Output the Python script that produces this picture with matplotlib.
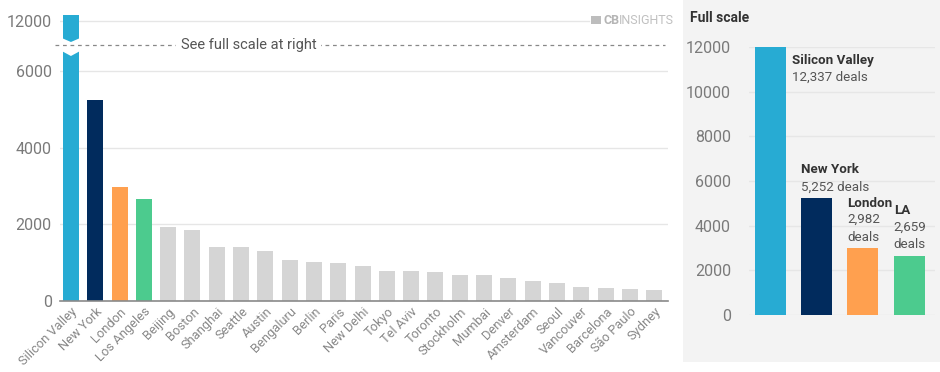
import numpy as np
import matplotlib
matplotlib.use('Agg')
import matplotlib.pyplot as plt
from matplotlib.patches import Rectangle, Polygon
import matplotlib.transforms as mtransforms

plt.rcParams['font.family'] = ['Roboto', 'DejaVu Sans']

# datos
cities = ["Silicon Valley", "New York", "London", "Los Angeles", "Beijing", "Boston",
          "Shanghai", "Seattle", "Austin", "Bengaluru", "Berlin", "Paris", "New Delhi",
          "Tokyo", "Tel Aviv", "Toronto", "Stockholm", "Mumbai", "Denver", "Amsterdam",
          "Seoul", "Vancouver", "Barcelona", "São Paulo", "Sydney"]
deals = [12337, 5252, 2982, 2659, 1920, 1860, 1400, 1400, 1300, 1060, 1010, 1000, 920,
         790, 780, 750, 680, 670, 600, 520, 470, 370, 350, 320, 280]
left_ticks = [0, 2000, 4000, 6000, 12000]

top_names = ["Silicon Valley", "New York", "London", "LA"]
top_deals = [12337, 5252, 2982, 2659]
top_wrap = [False, False, True, True]
right_ticks = [0, 2000, 4000, 6000, 8000, 10000, 12000]

colors_top = ["#27abd3", "#012b5d", "#ffa04f", "#4ccb8e"]
gray_bar = "#d5d5d5"
bar_colors = colors_top + [gray_bar] * (len(cities) - 4)

txt_gray = "#7a7a7a"
dark = "#333333"

# escala cortada para el eje izquierdo
xp = [-1e5, 6400, 11000, 12000, 1e5]
fp = [-1e5, 6400, 6864, 7316, 7316 + (1e5 - 12000) * 0.452]


def fwd(v):
    return np.interp(v, xp, fp)


def inv(t):
    return np.interp(t, fp, xp)


fig = plt.figure(figsize=(9.4, 3.72), dpi=100)

# panel gris de la derecha
fig.patches.append(Rectangle((683 / 940, 10 / 372), 257 / 940, 362 / 372,
                             transform=fig.transFigure, facecolor="#f3f3f3",
                             edgecolor="none", zorder=-5))

# ---- grafico izquierdo ----
ax = fig.add_axes([60 / 940, 71 / 372, 608 / 940, 286 / 372])
ax.set_yscale('function', functions=(fwd, inv))
x = np.arange(len(cities))
w = 0.66
ax.bar(x, deals, width=w, color=bar_colors, zorder=2)
ax.set_xlim(-0.45, len(cities) - 1 + 0.57)
ax.set_ylim(0, deals[0])

for t in left_ticks:
    ax.axhline(t, color="#e6e6e6", lw=1, zorder=1,
               xmax=0.87 if t == 12000 else 1)
ax.set_yticks(left_ticks)
ax.set_yticklabels([str(t) for t in left_ticks])
ax.set_xticks(x)
ax.set_xticklabels(cities, rotation=45, ha='right', rotation_mode='anchor')
ax.tick_params(axis='y', length=0, pad=6, labelsize=11.5, labelcolor=txt_gray)
ax.tick_params(axis='x', length=0, pad=3, labelsize=9.3, labelcolor="#888888")
for s in ['top', 'right', 'left']:
    ax.spines[s].set_visible(False)
ax.spines['bottom'].set_color("#8a8a8a")
ax.spines['bottom'].set_linewidth(1.2)
ax.spines['bottom'].set_zorder(3)

# marca de corte en la barra de Silicon Valley
blend = mtransforms.blended_transform_factory(ax.transData, ax.transAxes)


def fr(py):
    return (301 - py) / 286


hw = w / 2 + 0.05
cut = Polygon([(-hw, fr(38)), (0, fr(42)), (hw, fr(38)),
               (hw, fr(51)), (0, fr(56)), (-hw, fr(51))],
              closed=True, transform=blend, facecolor="white",
              edgecolor="none", zorder=4)
ax.add_patch(cut)

dash_y = fr(44.5)
ax.plot([-0.65, len(cities) - 1 + 0.45], [dash_y, dash_y], transform=blend,
        color="#888888", lw=0.9, ls=(0, (3, 3)), zorder=5, clip_on=False)
ax.text(0.31, dash_y, "See full scale at right", transform=ax.transAxes,
        ha='center', va='center', fontsize=10.5, color="#555555", zorder=6,
        bbox=dict(facecolor="white", edgecolor="none", pad=3))

# logo
fig.patches.append(Rectangle((591 / 940, 1 - 24 / 372), 10 / 940, 8 / 372,
                             transform=fig.transFigure, facecolor="#bdbdbd",
                             edgecolor="none"))
fig.text(603 / 940, 1 - 20 / 372, "CB", fontsize=9, fontweight='bold',
         color="#b5b5b5", va='center', ha='left')
fig.text(619 / 940, 1 - 20 / 372, "INSIGHTS", fontsize=9, color="#c0c0c0",
         va='center', ha='left')

# ---- grafico derecho ----
fig.text(690 / 940, 1 - 18 / 372, "Full scale", fontsize=10, fontweight='bold',
         color=dark, va='center', ha='left')

ax2 = fig.add_axes([749 / 940, 57 / 372, 186 / 940, 268 / 372])
ax2.patch.set_visible(False)
xr = np.arange(len(top_names))
wr = 0.67
ax2.bar(xr, top_deals, width=wr, color=colors_top, zorder=2)
ax2.set_xlim(-0.465, 3.56)
ax2.set_ylim(0, 12000)
ax2.set_yticks(right_ticks)
ax2.set_yticklabels([str(t) for t in right_ticks])
ax2.set_xticks([])
ax2.grid(axis='y', color="#e6e6e6", lw=1, zorder=1)
ax2.tick_params(axis='y', length=0, pad=13, labelsize=11.5, labelcolor=txt_gray)
for s in ax2.spines.values():
    s.set_visible(False)

fs = 9.6
lh = 12.3  # alto de linea en puntos
for i, (name, v, wrap) in enumerate(zip(top_names, top_deals, top_wrap)):
    detail = f"{v:,}" + ("\n" if wrap else " ") + "deals"
    if i == 0:
        # al lado de la barra, arriba
        ax2.annotate(name, xy=(i + wr / 2, 12000), xytext=(4, -5),
                     textcoords='offset points', ha='left', va='top',
                     fontsize=fs, fontweight='bold', color=dark)
        ax2.annotate(detail, xy=(i + wr / 2, 12000), xytext=(4, -5 - lh),
                     textcoords='offset points', ha='left', va='top',
                     fontsize=fs, color="#555555")
    else:
        n = detail.count("\n") + 1
        ax2.annotate(detail, xy=(i - wr / 2, v), xytext=(0, 3),
                     textcoords='offset points', ha='left', va='bottom',
                     fontsize=fs, color="#555555", linespacing=1.5,
                     annotation_clip=False)
        ax2.annotate(name, xy=(i - wr / 2, v), xytext=(0, 3 + n * lh),
                     textcoords='offset points', ha='left', va='bottom',
                     fontsize=fs, fontweight='bold', color=dark,
                     annotation_clip=False)

plt.savefig('out.png', dpi=100)
